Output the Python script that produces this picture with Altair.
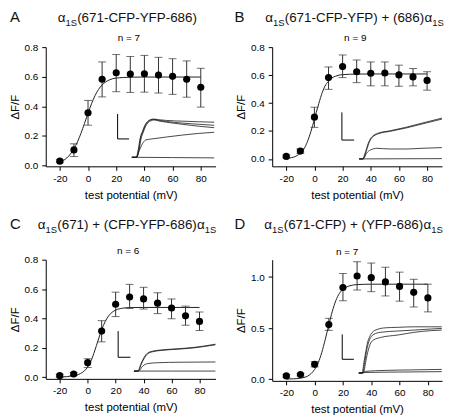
import altair as alt
import pandas as pd

FONT = "Liberation Sans, Arial, Helvetica, sans-serif"

# ---------------- data ----------------
volts = [-20, -10, 0, 10, 20, 30, 40, 50, 60, 70, 80]

a_mean = [0.030, 0.106, 0.356, 0.583, 0.627, 0.618, 0.620, 0.611, 0.603, 0.583, 0.529]
a_hi = [0.040, 0.147, 0.440, 0.700, 0.750, 0.737, 0.744, 0.731, 0.722, 0.707, 0.657]
a_lo = [0.020, 0.061, 0.273, 0.464, 0.499, 0.494, 0.496, 0.490, 0.481, 0.462, 0.395]

b_mean = [0.018, 0.056, 0.299, 0.582, 0.661, 0.624, 0.613, 0.615, 0.601, 0.587, 0.562]
b_hi = [0.028, 0.072, 0.370, 0.658, 0.744, 0.708, 0.694, 0.694, 0.671, 0.647, 0.624]
b_lo = [0.008, 0.040, 0.226, 0.498, 0.582, 0.546, 0.523, 0.523, 0.520, 0.523, 0.492]

c_mean = [0.011, 0.022, 0.099, 0.314, 0.497, 0.546, 0.533, 0.504, 0.471, 0.418, 0.380]
c_hi = [0.021, 0.032, 0.126, 0.385, 0.579, 0.632, 0.612, 0.575, 0.533, 0.484, 0.444]
c_lo = [0.001, 0.012, 0.066, 0.241, 0.413, 0.468, 0.464, 0.433, 0.398, 0.354, 0.318]

d_mean = [0.032, 0.045, 0.146, 0.535, 0.898, 1.010, 0.994, 0.952, 0.908, 0.850, 0.796]
d_hi = [0.045, 0.058, 0.172, 0.596, 1.035, 1.150, 1.137, 1.096, 1.048, 0.978, 0.930]
d_lo = [0.019, 0.032, 0.121, 0.478, 0.768, 0.873, 0.857, 0.815, 0.764, 0.707, 0.659]

# fitted curves
fit_v = [-20, -17.5, -15, -12.5, -10, -7.5, -5, -2.5, 0, 2.5, 5, 7.5, 10, 12.5, 15, 17.5,
         20, 25, 30, 40, 60, 80]
a_fit = [0.022, 0.034, 0.052, 0.078, 0.113, 0.160, 0.218, 0.285, 0.353, 0.418, 0.473, 0.515,
         0.545, 0.565, 0.578, 0.587, 0.591, 0.595, 0.597, 0.598, 0.598, 0.598]
b_fit = [0.004, 0.007, 0.012, 0.023, 0.041, 0.071, 0.123, 0.196, 0.285, 0.375, 0.459, 0.521,
         0.556, 0.580, 0.592, 0.600, 0.603, 0.606, 0.607, 0.608, 0.608, 0.608]
c_fit = [0.002, 0.003, 0.004, 0.007, 0.010, 0.016, 0.026, 0.042, 0.070, 0.113, 0.179, 0.252,
         0.323, 0.378, 0.418, 0.442, 0.457, 0.470, 0.474, 0.475, 0.475, 0.475]
d_fit = [0.002, 0.003, 0.004, 0.006, 0.010, 0.017, 0.030, 0.055, 0.095, 0.160, 0.260, 0.390,
         0.530, 0.665, 0.770, 0.840, 0.880, 0.915, 0.926, 0.930, 0.930, 0.930]

# inset fluorescence traces (drawn in the panel's own data units)
a_t1_v = [31.1, 34.1, 35.7, 37.0, 38.6, 40.2, 42.0, 44.2, 46.5, 49.9, 55.6, 66.9, 78.2, 89.5]
a_t1_f = [0.056, 0.056, 0.111, 0.186, 0.230, 0.269, 0.295, 0.310, 0.314, 0.310, 0.305, 0.300, 0.296, 0.293]
a_t2_v = [31.1, 34.4, 36.0, 37.3, 38.9, 40.5, 42.3, 44.5, 46.8, 49.9, 55.6, 66.9, 78.2, 89.5]
a_t2_f = [0.056, 0.056, 0.111, 0.186, 0.230, 0.269, 0.295, 0.308, 0.312, 0.306, 0.298, 0.287, 0.279, 0.272]
a_t3_v = [31.1, 34.7, 36.3, 37.6, 39.2, 40.8, 42.6, 44.8, 47.0, 49.9, 55.6, 66.9, 78.2, 89.5]
a_t3_f = [0.056, 0.056, 0.108, 0.180, 0.225, 0.264, 0.290, 0.303, 0.308, 0.302, 0.293, 0.279, 0.266, 0.256]
a_t4_v = [31.1, 34.3, 36.3, 38.6, 40.9, 45.4, 55.6, 66.9, 78.2, 89.5]
a_t4_f = [0.056, 0.056, 0.100, 0.147, 0.173, 0.180, 0.193, 0.206, 0.217, 0.225]
a_t5_v = [31.1, 60.0, 89.5]
a_t5_f = [0.056, 0.054, 0.052]
a_bar_v = [21.0, 21.0, 29.1]
a_bar_f = [0.349, 0.180, 0.180]

b_t1_v = [31.8, 34.1, 36.4, 38.2, 39.8, 42.1, 45.5, 53.5, 64.9, 76.4, 90.5]
b_t1_f = [0.0, 0.0, 0.053, 0.111, 0.145, 0.169, 0.185, 0.201, 0.226, 0.256, 0.292]
b_t2_v = [31.8, 34.3, 36.6, 38.4, 40.0, 42.3, 45.7, 53.5, 64.9, 76.4, 90.5]
b_t2_f = [0.0, 0.0, 0.050, 0.106, 0.140, 0.165, 0.181, 0.197, 0.221, 0.250, 0.285]
b_t3_v = [31.8, 34.7, 37.0, 39.8, 44.4, 53.5, 64.9, 76.4, 90.5]
b_t3_f = [0.0, 0.0, 0.041, 0.064, 0.076, 0.071, 0.071, 0.076, 0.081]
b_t4_v = [31.8, 60.0, 90.5]
b_t4_f = [0.0, 0.001, 0.002]
b_bar_v = [19.5, 19.5, 28.2]
b_bar_f = [0.333, 0.135, 0.135]

c_t1_v = [33.1, 35.9, 38.2, 40.5, 42.8, 46.2, 53.1, 64.6, 76.1, 91.4]
c_t1_f = [0.042, 0.042, 0.093, 0.137, 0.164, 0.177, 0.186, 0.194, 0.203, 0.225]
c_t2_v = [33.1, 36.1, 38.4, 40.7, 43.0, 46.2, 53.1, 64.6, 76.1, 91.4]
c_t2_f = [0.042, 0.042, 0.090, 0.133, 0.160, 0.173, 0.183, 0.191, 0.200, 0.221]
c_t3_v = [33.1, 36.3, 39.3, 42.8, 50.8, 64.6, 91.4]
c_t3_f = [0.042, 0.042, 0.075, 0.093, 0.099, 0.102, 0.104]
c_t4_v = [33.1, 60.0, 91.4]
c_t4_f = [0.042, 0.042, 0.042]
c_bar_v = [21.8, 21.8, 30.6]
c_bar_f = [0.314, 0.136, 0.136]

d_t1_v = [31.2, 33.4, 35.0, 36.2, 37.3, 38.9, 40.8, 44.2, 49.9, 59.0, 70.4, 81.8, 89.8]
d_t1_f = [0.061, 0.061, 0.179, 0.274, 0.354, 0.417, 0.459, 0.487, 0.503, 0.508, 0.513, 0.513, 0.513]
d_t2_v = [31.2, 33.9, 35.5, 36.6, 38.0, 39.6, 41.9, 46.5, 59.0, 70.4, 81.8, 89.8]
d_t2_f = [0.061, 0.061, 0.179, 0.274, 0.354, 0.408, 0.440, 0.459, 0.472, 0.481, 0.491, 0.497]
d_t3_v = [31.2, 34.4, 36.2, 37.8, 39.6, 41.9, 46.5, 59.0, 70.4, 81.8, 89.8]
d_t3_f = [0.061, 0.061, 0.179, 0.281, 0.354, 0.386, 0.408, 0.433, 0.459, 0.475, 0.481]
d_t4_v = [31.2, 32.8, 36.2, 43.0, 59.0, 89.8]
d_t4_f = [0.061, 0.061, 0.077, 0.083, 0.089, 0.096]
d_t5_v = [31.2, 32.8, 36.2, 59.0, 89.8]
d_t5_f = [0.061, 0.061, 0.066, 0.070, 0.074]
d_bar_v = [19.5, 19.5, 27.7]
d_bar_f = [0.439, 0.195, 0.195]

x_ticks = [-20, 0, 20, 40, 60, 80]
y_ticks_08 = [0.0, 0.2, 0.4, 0.6, 0.8]
y_ticks_10 = [0.0, 0.5, 1.0]

title_a = "(671-CFP-YFP-686)"
title_b = "(671-CFP-YFP) + (686)"
title_c = "(671) + (CFP-YFP-686)"
title_d = "(671-CFP) + (YFP-686)"

# ---------------- layout constants ----------------
PW = 171          # plot width
PH = 120          # plot height (rows)
TFS = 13.5        # title font size
SFS = 9.5         # subscript font size
ALPHA_W = 7.8     # width of alpha at TFS
SUB_W = 11.8      # width of "1S" at SFS


def text_layer(s, x, y, size, align="left"):
    return alt.Chart(pd.DataFrame({"k": [0]})).mark_text(
        text=s, align=align, baseline="alphabetic", font=FONT, fontSize=size,
        fontWeight="normal", color="#111111"
    ).encode(x=alt.value(x), y=alt.value(y))


def panel(mean, lo, hi, fit, traces, bar, xdom, ydom, yticks, height,
          letter, letter_x, text_y, title_main, title_x0, main_w, tail,
          n_text, n_v, n_y):
    xs = alt.Scale(domain=xdom, nice=False, zero=False)
    ys = alt.Scale(domain=ydom, nice=False, zero=False)
    xaxis = alt.Axis(values=x_ticks, title="test potential (mV)", labelExpr="'' + datum.value",
                     labelPadding=3, titlePadding=6)
    yaxis = alt.Axis(values=yticks, format=".1f", title="ΔF/F", labelPadding=4, titlePadding=4)

    def X(f):
        return alt.X(f"{f}:Q", scale=xs, axis=xaxis)

    def Y(f):
        return alt.Y(f"{f}:Q", scale=ys, axis=yaxis)

    pts = pd.DataFrame({"v": volts, "f": mean, "lo": lo, "hi": hi})
    fit_df = pd.DataFrame({"v": fit_v, "f": fit})
    rows = []
    for i, (tv, tf) in enumerate(traces):
        for v, f in zip(tv, tf):
            rows.append({"v": v, "f": f, "s": i})
    tr_df = pd.DataFrame(rows)
    bar_df = pd.DataFrame({"v": bar[0], "f": bar[1], "o": [0, 1, 2]})

    layers = [
        alt.Chart(tr_df).mark_line(color="#1a1a1a", strokeWidth=0.8, interpolate="monotone")
        .encode(x=X("v"), y=Y("f"), detail="s:N"),
        alt.Chart(bar_df).mark_line(color="black", strokeWidth=1)
        .encode(x=X("v"), y=Y("f"), order="o:Q"),
        alt.Chart(fit_df).mark_line(color="#222222", strokeWidth=1, interpolate="monotone")
        .encode(x=X("v"), y=Y("f")),
        alt.Chart(pts).mark_rule(color="#333333", strokeWidth=1)
        .encode(x=X("v"), y=Y("lo"), y2="hi:Q"),
        alt.Chart(pts).mark_tick(orient="horizontal", size=8, thickness=1, color="#333333")
        .encode(x=X("v"), y=Y("lo")),
        alt.Chart(pts).mark_tick(orient="horizontal", size=8, thickness=1, color="#333333")
        .encode(x=X("v"), y=Y("hi")),
        alt.Chart(pts).mark_circle(size=52, color="black", opacity=1)
        .encode(x=X("v"), y=Y("f")),
        alt.Chart(pd.DataFrame({"v": [n_v], "t": [n_text]})).mark_text(
            align="center", baseline="alphabetic", font=FONT, fontSize=10, color="black")
        .encode(x=X("v"), y=alt.value(n_y), text="t:N"),
        text_layer(letter, letter_x, text_y, 15),
        text_layer("α", title_x0, text_y, TFS),
        text_layer("1S", title_x0 + ALPHA_W, text_y + 4, SFS),
        text_layer(title_main, title_x0 + ALPHA_W + SUB_W, text_y, TFS),
    ]
    if tail:
        x2 = title_x0 + ALPHA_W + SUB_W + main_w
        layers.append(text_layer("α", x2, text_y, TFS))
        layers.append(text_layer("1S", x2 + ALPHA_W, text_y + 4, SFS))
    return alt.layer(*layers).properties(width=PW, height=height)


pA = panel(a_mean, a_lo, a_hi, a_fit,
           [(a_t1_v, a_t1_f), (a_t2_v, a_t2_f), (a_t3_v, a_t3_f), (a_t4_v, a_t4_f), (a_t5_v, a_t5_f)],
           (a_bar_v, a_bar_f), [-30, 90.5], [-0.005, 0.8], y_ticks_08, PH,
           "A", -36, -25, title_a, 12, 120.8, False, "n = 7", 29, -6)
pB = panel(b_mean, b_lo, b_hi, b_fit,
           [(b_t1_v, b_t1_f), (b_t2_v, b_t2_f), (b_t3_v, b_t3_f), (b_t4_v, b_t4_f)],
           (b_bar_v, b_bar_f), [-30, 90.6], [-0.053, 0.8], y_ticks_08, PH,
           "B", -38, -25, title_b, -7, 140.7, True, "n = 9", 29, -6)
pC = panel(c_mean, c_lo, c_hi, c_fit,
           [(c_t1_v, c_t1_f), (c_t2_v, c_t2_f), (c_t3_v, c_t3_f), (c_t4_v, c_t4_f)],
           (c_bar_v, c_bar_f), [-30, 91.5], [-0.011, 0.8], y_ticks_08, PH,
           "C", -36, -31, title_c, -8, 140.7, True, "n = 6", 29, -6)
pD = panel(d_mean, d_lo, d_hi, d_fit,
           [(d_t1_v, d_t1_f), (d_t2_v, d_t2_f), (d_t3_v, d_t3_f), (d_t4_v, d_t4_f), (d_t5_v, d_t5_f)],
           (d_bar_v, d_bar_f), [-30, 90], [-0.016, 1.17], y_ticks_10, PH + 2,
           "D", -38, -31, title_d, -8, 140.7, True, "n = 7", 23, -5)

chart = alt.concat(pA, pB, pC, pD, columns=2, spacing={"row": 94, "column": 57}, bounds="flush").properties(
    padding=1, background="white"
).configure_axis(
    domainColor="black", tickColor="black", labelColor="black", titleColor="black",
    labelFont=FONT, titleFont=FONT, labelFontSize=10, titleFontSize=11.5,
    titleFontWeight="normal", grid=False, tickSize=4, domainWidth=1, tickWidth=1,
).configure_view(stroke=None)

chart.save("out.html", embed_options={"renderer": "svg", "actions": False})
